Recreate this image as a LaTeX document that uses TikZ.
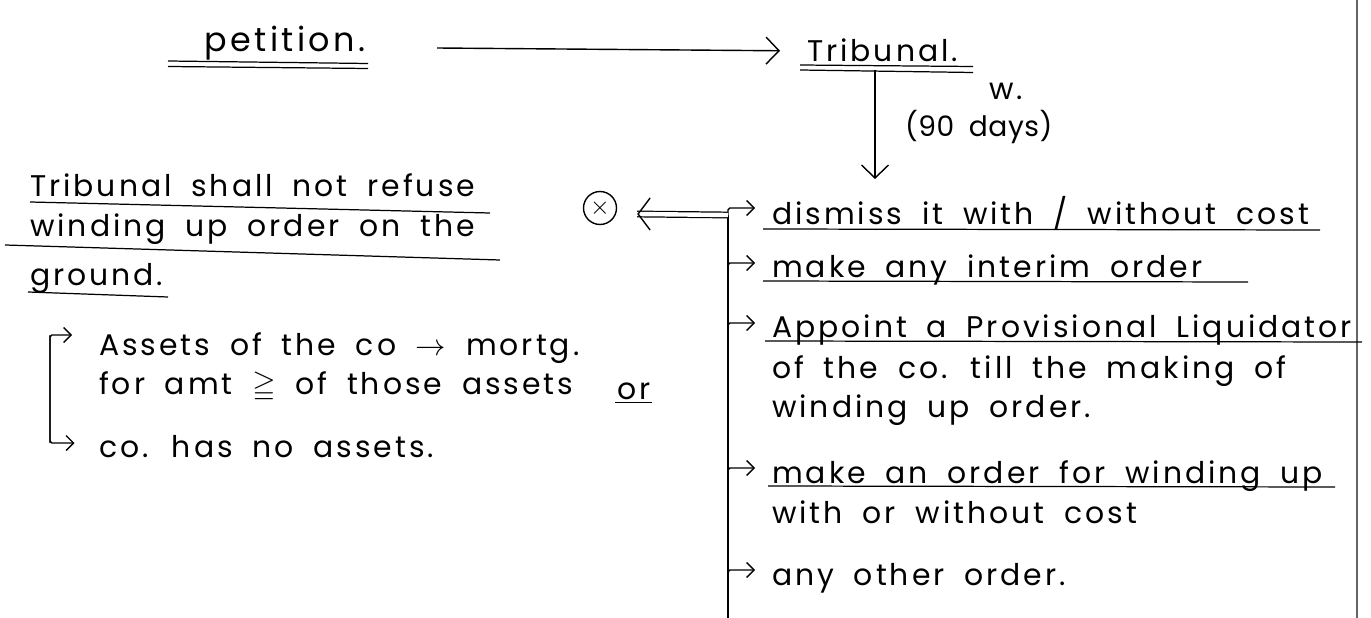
\documentclass[tikz,border=0pt]{standalone}
\usepackage{amssymb}
\usepackage{fontspec}
\setmainfont{Poppins}[LetterSpace=10,WordSpace=1.8]
\usepackage{tikz}
\usetikzlibrary{positioning,arrows.meta}

\begin{document}
\begin{tikzpicture}[
    hand/.style={
        inner sep=1pt,
        font=\fontsize{17}{20}\selectfont,
        anchor=base west
    },
    flow/.style={
        -{Straight Barb[length=2.6mm,width=5.4mm]},
        line width=0.8pt
    },
    branch/.style={
        -{Straight Barb[length=1.5mm,width=3mm]},
        line width=0.8pt,
        rounded corners=1pt
    },
    uline/.style={
        line width=0.7pt
    }
]
    % page size and page edge
    \useasboundingbox (0,0) rectangle (27.42,-12.36);
    \draw[line width=0.6pt, black!60] (27.14,0) -- (27.14,-12.36);

    % top layer
    \node[hand, anchor=base, font=\fontsize{19}{22}\selectfont] (petition) at (5.7,-1.04) {petition.};
    \node[hand] (tribunal) at (16.1,-1.24) {Tribunal.};
    \draw[uline] (3.36,-1.22) -- (7.36,-1.27);
    \draw[uline] (3.36,-1.33) -- (7.36,-1.37);
    \draw[uline] (16.0,-1.3) -- (19.46,-1.33);
    \draw[uline] (16.0,-1.4) -- (19.46,-1.45);
    \draw[flow] (8.74,-0.96) -- ([xshift=-0.5cm]tribunal.west);

    % within 90 days
    \coordinate (drop) at (17.5,-1.4);
    \coordinate (dropend) at (17.5,-3.58);
    \draw[flow] (drop) -- (dropend);
    \node[hand] (within) at (19.74,-2.0) {w.};
    \node[hand, font=\fontsize{16}{19}\selectfont\addfontfeatures{LetterSpace=2}] (days) at (18.06,-2.74) {(90 days)};

    % options of the tribunal
    \coordinate (bartop) at (14.56,-4.3);
    \coordinate (barend) at (14.56,-12.36);
    \draw[line width=0.8pt] (bartop) -- (barend);

    \node[hand] (dismiss) at (15.4,-4.5) {dismiss it with / without cost};
    \node[hand] (interim) at (15.4,-5.56) {make any interim order};
    \node[hand] (appoint) at (15.4,-6.76) {Appoint a Provisional Liquidator};
    \node[hand] (appointb) at (15.4,-7.56) {of the co. till the making of};
    \node[hand] (appointc) at (15.4,-8.34) {winding up order.};
    \node[hand] (windup) at (15.4,-9.66) {make an order for winding up};
    \node[hand] (windupb) at (15.4,-10.46) {with or without cost};
    \node[hand] (other) at (15.4,-11.7) {any other order.};

    \draw[uline] (15.26,-4.58) -- (26.4,-4.6);
    \draw[uline] (15.26,-5.62) -- (24.96,-5.64);
    \draw[uline] (15.3,-6.82) -- (27.24,-6.84);
    \draw[uline] (15.36,-9.72) -- (26.7,-9.74);

    \foreach \item in {interim,appoint,windup,other}
        \draw[branch] ([yshift=0.12cm]bartop |- \item.base west) |- ([xshift=-0.3cm,yshift=0.3cm]\item.base west);
    \draw[branch] (bartop) |- ([xshift=-0.3cm,yshift=0.34cm]dismiss.base west);

    % not a ground for refusal
    \node[draw, circle, line width=0.8pt, minimum size=0.66cm, inner sep=0pt, font=\Large] (cross) at (12.0,-4.16) {$\times$};
    \coordinate (crosstip) at ([xshift=0.4cm,yshift=-0.12cm]cross.east);
    \draw[double, double distance=2.5pt, line width=0.7pt] (bartop) -- (crosstip);
    \draw[-{Straight Barb[length=2.4mm,width=6.4mm]}, line width=0.8pt] ([xshift=0.2pt]crosstip) -- (crosstip);

    % left layer
    \node[hand] (refuse) at (0.56,-3.94) {Tribunal shall not refuse};
    \node[hand] (refuseb) at (0.56,-4.74) {winding up order on the};
    \node[hand] (refusec) at (0.56,-5.7) {ground.};
    \draw[uline] (0.6,-4.04) -- (9.8,-4.26);
    \draw[uline] (0.1,-4.9) -- (10.0,-5.2);
    \draw[uline] (0.56,-5.84) -- (3.36,-5.94);

    \node[hand] (mortg) at (1.94,-7.1) {Assets of the co $\rightarrow$ mortg.};
    \node[hand] (mortgb) at (1.94,-7.88) {for amt $\geqq$ of those assets};
    \node[hand] (orr) at (12.3,-7.98) {or};
    \node[hand] (noassets) at (1.94,-9.14) {co. has no assets.};
    \draw[uline] ([yshift=-2pt]orr.base west) -- ([yshift=-2pt]orr.base east);

    \coordinate (gtop) at (1.0,-6.7);
    \coordinate (gbot) at (1.0,-8.86);
    \draw[branch] (gbot) -- (gtop) -- ([xshift=-0.5cm]mortg.west |- gtop);
    \draw[branch] (gtop) -- (gbot) -- ([xshift=-0.45cm]noassets.base west |- gbot);
\end{tikzpicture}
\end{document}
